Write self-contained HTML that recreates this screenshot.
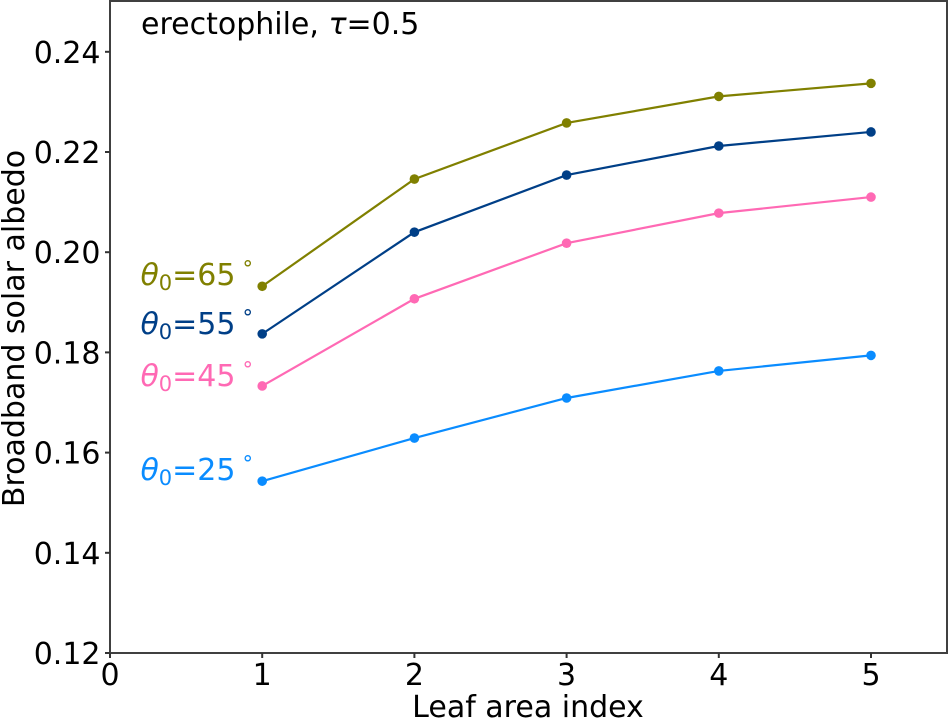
<!DOCTYPE html>
<html>
<head>
<meta charset="utf-8">
<style>
html,body{margin:0;padding:0;background:#fff;}
svg{display:block;}
text{font-family:"DejaVu Sans","Liberation Sans",sans-serif;}
</style>
</head>
<body>
<svg id="chart" width="948" height="718" viewBox="0 0 948 718" xmlns="http://www.w3.org/2000/svg"></svg>
<script>
const xTicks = [0, 1, 2, 3, 4, 5];
const yTicks = [0.12, 0.14, 0.16, 0.18, 0.20, 0.22, 0.24];
const yTickLabels = ["0.12", "0.14", "0.16", "0.18", "0.20", "0.22", "0.24"];
const lai = [1, 2, 3, 4, 5];
const theta65 = [0.1932, 0.2146, 0.2258, 0.2311, 0.2337];
const theta55 = [0.1837, 0.2040, 0.2154, 0.2212, 0.2240];
const theta45 = [0.1733, 0.1907, 0.2018, 0.2078, 0.2110];
const theta25 = [0.1543, 0.1629, 0.1709, 0.1763, 0.1794];
const angleNames = ["65", "55", "45", "25"];
const labelValues = [0.1954, 0.1857, 0.1753, 0.1565];
const labelXValue = 0.2;

const NS = 'http://www.w3.org/2000/svg';
const svg = document.getElementById('chart');
const X = v => 110 + v * 152.2;
const Y = v => 653 - (v - 0.12) * 5010;
function mk(tag, attrs, parent) {
  const e = document.createElementNS(NS, tag);
  for (const k in attrs) e.setAttribute(k, attrs[k]);
  (parent || svg).appendChild(e);
  return e;
}
const colors = ['#808000', '#003f87', '#ff69b4', '#0a8cff'];
const seriesList = [theta65, theta55, theta45, theta25];

seriesList.forEach((vals, i) => {
  const g = mk('g', {});
  
  
  const line = mk('polyline', {
    points: vals.map((v, j) => X(lai[j]) + ',' + Y(v)).join(' '),
    fill: 'none', stroke: colors[i], 'stroke-width': 2.2
  }, g);
  
  
  vals.forEach((v, j) => {
    const c = mk('circle', { cx: X(lai[j]), cy: Y(v), r: 4.8, fill: colors[i] }, g);
    
    
  });
  const t = mk('text', { x: X(labelXValue), y: Y(labelValues[i]) + 10, fill: colors[i], 'font-size': 30 }, g);
  
  
  const th = mk('tspan', { 'font-style': 'italic' }, t);
  th.textContent = 'θ';
  const sub = mk('tspan', { 'font-size': 21, dy: 5 }, t);
  sub.textContent = '0';
  const rest = mk('tspan', { dy: -5 }, t);
  rest.textContent = '=' + angleNames[i];
  const deg = mk('tspan', { 'font-size': 21, dy: -9, dx: 7 }, t);
  deg.textContent = '°';
});

const frame = mk('rect', { x: 110, y: 1, width: 837, height: 652, fill: 'none', stroke: '#404040', 'stroke-width': 2 });



xTicks.forEach(v => {
  const l = mk('line', { x1: X(v), x2: X(v), y1: 653, y2: 658, stroke: '#333', 'stroke-width': 2 });
  
  
  const t = mk('text', { x: X(v), y: 685, 'text-anchor': 'middle', 'font-size': 30, fill: '#000' });
  
  
  t.textContent = v;
});
yTicks.forEach((v, i) => {
  const l = mk('line', { x1: 105, x2: 110, y1: Y(v), y2: Y(v), stroke: '#333', 'stroke-width': 2 });
  
  
  const t = mk('text', { x: 100.5, y: Y(v) + 11, 'text-anchor': 'end', 'font-size': 30, fill: '#000' });
  
  
  t.textContent = yTickLabels[i];
});

const xt = mk('text', { x: 528, y: 717, 'text-anchor': 'middle', 'font-size': 30, fill: '#000' });


xt.textContent = 'Leaf area index';

const yt = mk('text', { x: 0, y: 0, 'text-anchor': 'middle', 'font-size': 30, fill: '#000', transform: 'translate(24,328.5) rotate(-90)' });


yt.textContent = 'Broadband solar albedo';

const title = mk('text', { x: 141, y: 34, 'font-size': 30, fill: '#000' });


const t1 = mk('tspan', {}, title);
t1.textContent = 'erectophile, ';
const t2 = mk('tspan', { 'font-style': 'italic' }, title);
t2.textContent = 'τ';
const t3 = mk('tspan', {}, title);
t3.textContent = '=0.5';
</script>
</body>
</html>
